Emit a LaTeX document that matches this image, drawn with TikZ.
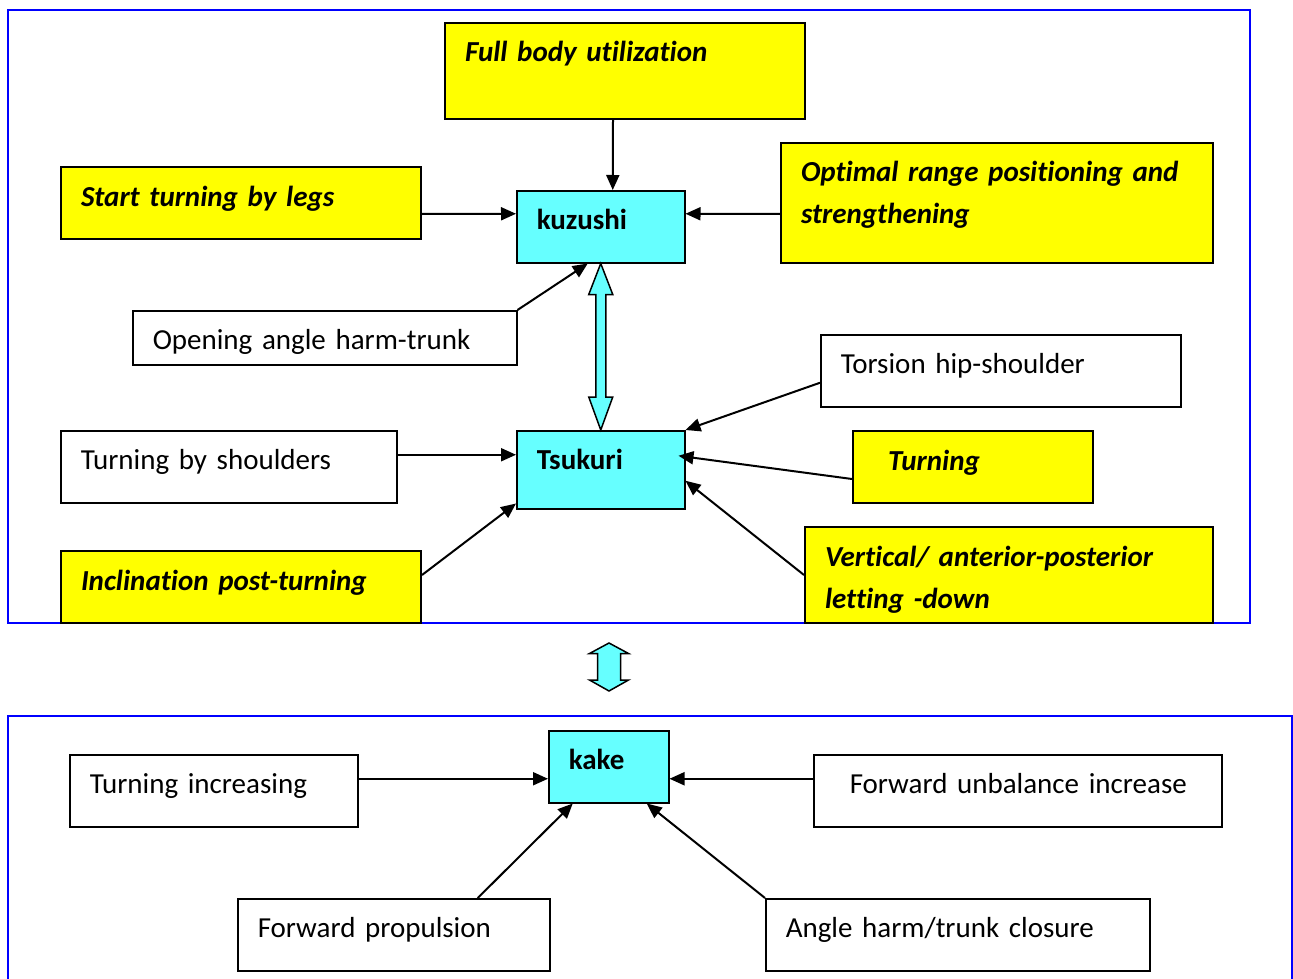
\documentclass[tikz,border=0pt]{standalone}
\usepackage{fontspec}
\setmainfont[Ligatures=NoCommon]{Carlito}
\usetikzlibrary{arrows.meta,calc}
\definecolor{ybox}{RGB}{255,255,0}
\definecolor{cbox}{RGB}{102,255,255}
\definecolor{frameblue}{RGB}{0,0,255}
\begin{document}
\begin{tikzpicture}[x=1pt,y=-1pt,
  basebox/.style={draw=black, line width=1.5pt, anchor=north west, inner xsep=20pt, inner ysep=0pt,
    align=left, text height=39pt, font=\fontsize{29}{42}\selectfont},
  plainbox/.style={basebox, fill=white},
  yelbox/.style={basebox, fill=ybox, line width=2pt, font=\fontsize{29}{42}\selectfont\bfseries\itshape},
  cyanbox/.style={basebox, fill=cbox, font=\fontsize{29}{42}\selectfont\bfseries},
  conn/.style={line width=2pt, -{Triangle[length=15pt,width=13pt]}},
  frame/.style={draw=frameblue, line width=2pt},
  blockarrow/.style={draw=black, line width=1.5pt, fill=cbox, line join=miter}
]
\clip (0,0) rectangle (1293,979);
\fill[white] (0,0) rectangle (1293,979);

% frames
\draw[frame] (8,10) rectangle (1250,623);
\draw[frame] (8,716) rectangle (1292,1000);

% top panel nodes
\node[yelbox, text width=320pt, text depth=57pt] (fb) at (444,22) {Full body utilization};
\node[yelbox, text width=320pt, text depth=33pt] (stl) at (60,166) {Start turning by legs};
\node[cyanbox, text width=128pt, text depth=33pt] (kuz) at (516,190) {kuzushi};
\node[yelbox, text width=392pt, text depth=81pt] (opt) at (780,142) {Optimal range positioning and\\strengthening};
\node[plainbox, text width=344pt, text depth=15pt] (oa) at (132,310) {Opening angle harm-trunk};
\node[plainbox, text width=320pt, text depth=33pt] (tor) at (820,334) {Torsion hip-shoulder};
\node[plainbox, text width=296pt, text depth=33pt] (tbs) at (60,430) {Turning by shoulders};
\node[cyanbox, text width=128pt, text depth=39pt] (tsu) at (516,430) {Tsukuri};
\node[yelbox, text width=200pt, text depth=33pt] (tur) at (852,430) {\hspace*{15pt}Turning};
\node[yelbox, text width=320pt, text depth=33pt] (inc) at (60,550) {Inclination post-turning};
\node[yelbox, text width=368pt, text depth=57pt] (ver) at (804,526) {Vertical/ anterior-posterior\\letting -down};

% bottom panel nodes
\node[cyanbox, text width=80pt, text depth=33pt] (kake) at (548,730) {kake};
\node[plainbox, text width=248pt, text depth=33pt] (ti) at (69,754) {Turning increasing};
\node[plainbox, text width=368pt, text depth=33pt] (fu) at (813,754) {\hspace*{16pt}Forward unbalance increase};
\node[plainbox, text width=272pt, text depth=33pt] (fp) at (237,898) {Forward propulsion};
\node[plainbox, text width=344pt, text depth=33pt] (ah) at (765,898) {Angle harm/trunk closure};

% connectors top
\draw[conn] ([xshift=-12pt]fb.south) -- ([xshift=12pt]kuz.north);
\draw[conn] ([yshift=-11pt]stl.east) -- ([yshift=13pt]kuz.west);
\draw[conn] ([yshift=-11pt]opt.east -| opt.west) -- ([yshift=13pt]kuz.east);
\draw[conn] (oa.north east) -- ([xshift=-13pt]kuz.south);
\draw[conn] ([yshift=-12pt]tor.west) -- (tsu.north east);
\draw[conn] ([yshift=-12pt]tur.west) -- ([xshift=-7pt,yshift=14pt]tsu.east);
\draw[conn] ([yshift=12pt]tbs.east) -- ([yshift=15pt]tsu.west);
\draw[conn] ([yshift=12pt]inc.east) -- ([yshift=6pt]tsu.south west);
\draw[conn] (ver.west) -- ([yshift=-11pt]tsu.east);

% double block arrow kuzushi <-> Tsukuri
\draw[blockarrow] (kuz.south) -- ++(12,31) -- ++(-7,0) -- ($(tsu.north)+(5,-33)$) -- ++(7,0)
  -- (tsu.north) -- ++(-12,-33) -- ++(7,0) -- ($(kuz.south)+(-5,31)$) -- ++(-7,0) -- cycle;

% small double block arrow between panels
\coordinate (dt) at (609,643);
\coordinate (db) at (609,691);
\draw[blockarrow] (dt) -- ++(19.5,10.5) -- ++(-8,0) -- ($(db)+(11.5,-11)$) -- ++(8,0)
  -- (db) -- ++(-19.5,-11) -- ++(8,0) -- ($(dt)+(-11.5,10.5)$) -- ++(-8,0) -- cycle;

% connectors bottom
\draw[conn] ([yshift=12pt]ti.east) -- ([yshift=-12pt]kake.west);
\draw[conn] ([yshift=12pt]fu.west) -- ([yshift=-12pt]kake.east);
\draw[conn] ([xshift=84pt]fp.north) -- ([xshift=-36pt]kake.south);
\draw[conn] (ah.north west) -- ([xshift=38pt]kake.south);
\end{tikzpicture}
\end{document}
